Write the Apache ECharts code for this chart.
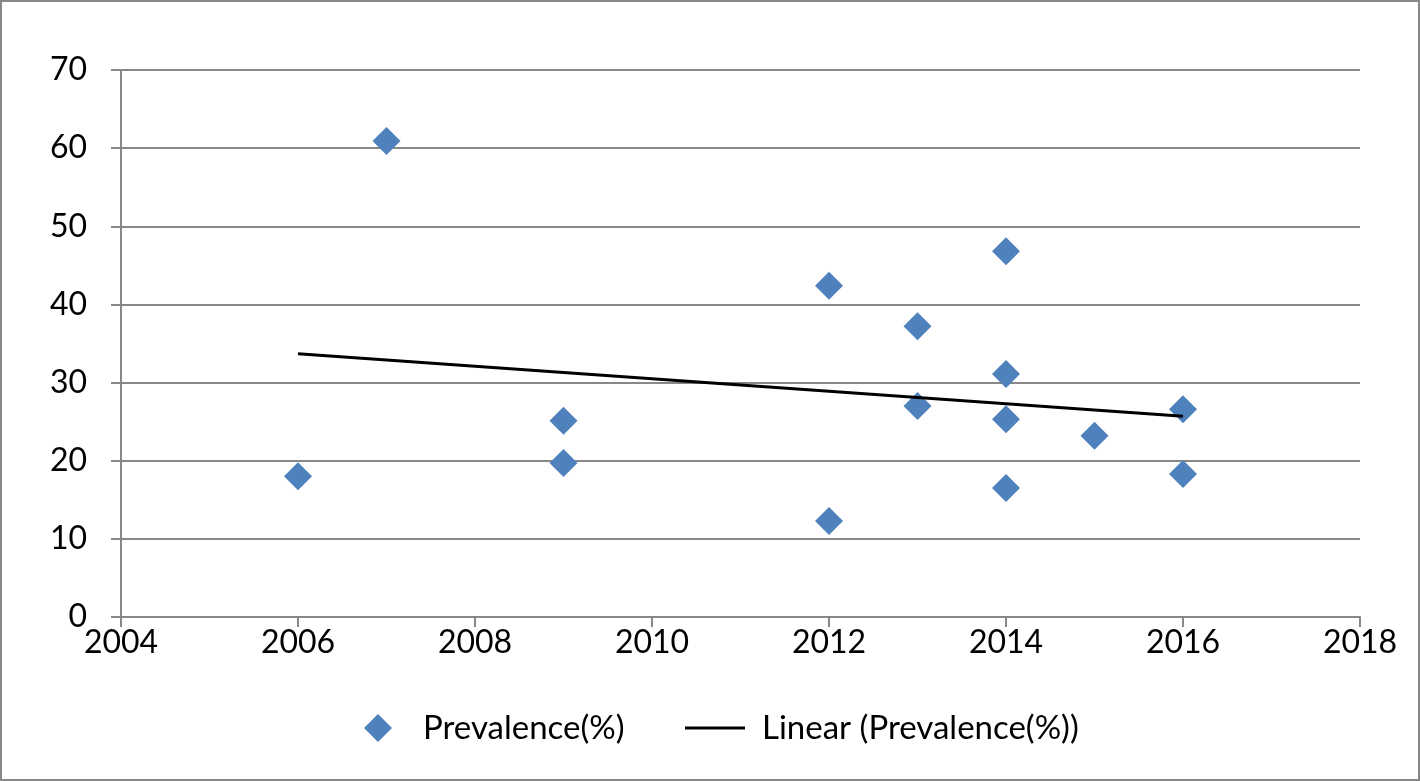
<!DOCTYPE html>
<html><head><meta charset="utf-8">
<script src="https://cdn.jsdelivr.net/npm/echarts@6/dist/echarts.min.js"></script>
<style>html,body{margin:0;padding:0;background:#fff}#c{width:1420px;height:781px}</style>
</head><body><div id="c"></div>
<script>
const years = [2006, 2007, 2009, 2009, 2012, 2012, 2013, 2013, 2014, 2014, 2014, 2014, 2015, 2016, 2016];
const prevalence = [18.0, 60.9, 25.1, 19.7, 42.4, 12.3, 37.2, 27.0, 46.8, 31.1, 25.3, 16.5, 23.2, 26.6, 18.3];
const trendYears = [2006, 2016];
const trendValues = [33.7, 25.7];
const seriesNames = ['Prevalence(%)', 'Linear (Prevalence(%))'];

const chart = echarts.init(document.getElementById('c'));
const font = 'Lato, "Open Sans", "Liberation Sans", sans-serif';
const legendText = {fontSize: 33, color: '#000', fontFamily: font, lineHeight: 34};
chart.setOption({
  animation: false,
  backgroundColor: '#fff',
  textStyle: {fontFamily: font},
  graphic: [{type: 'rect', shape: {x: 1, y: 1, width: 1418, height: 779}, style: {fill: 'none', stroke: '#888', lineWidth: 2}}],
  grid: {left: 121, right: 60, top: 70, bottom: 164},
  legend: [
    {left: 364, top: 711, itemWidth: 28, itemHeight: 28, padding: 0,
     textStyle: Object.assign({padding: [0, 0, 0, 26]}, legendText),
     data: [{name: seriesNames[0], icon: 'diamond', itemStyle: {color: '#4f81bd'}}]},
    {left: 685, top: 711, itemWidth: 60, itemHeight: 28, padding: 0,
     textStyle: Object.assign({padding: [0, 0, 0, 12]}, legendText),
     data: [{name: seriesNames[1], icon: 'path://M0,12.5 L60,12.5 L60,15.5 L0,15.5 Z', itemStyle: {color: '#000'}}]}
  ],
  xAxis: {
    type: 'value', min: 2004, max: 2018, interval: 2,
    axisLine: {lineStyle: {color: '#888', width: 2}},
    axisTick: {show: true, length: 10, inside: false, lineStyle: {color: '#888', width: 2}},
    splitLine: {show: false},
    axisLabel: {fontSize: 32, color: '#000', margin: 10, fontFamily: font, formatter: v => String(v)}
  },
  yAxis: {
    type: 'value', min: 0, max: 70, interval: 10,
    axisLine: {show: true, lineStyle: {color: '#888', width: 2}},
    axisTick: {show: true, length: 10, lineStyle: {color: '#888', width: 2}},
    splitLine: {show: true, lineStyle: {color: '#888', width: 2}},
    axisLabel: {fontSize: 32, color: '#000', margin: 34, fontFamily: font}
  },
  series: [
    {name: seriesNames[0], type: 'scatter', symbol: 'diamond', symbolSize: 28,
     itemStyle: {color: '#4f81bd', opacity: 1},
     data: years.map((y, i) => [y, prevalence[i]])},
    {name: seriesNames[1], type: 'line', symbol: 'none', z: 3,
     lineStyle: {color: '#000', width: 3},
     itemStyle: {color: '#000'},
     data: trendYears.map((y, i) => [y, trendValues[i]])}
  ]
});
</script></body></html>
